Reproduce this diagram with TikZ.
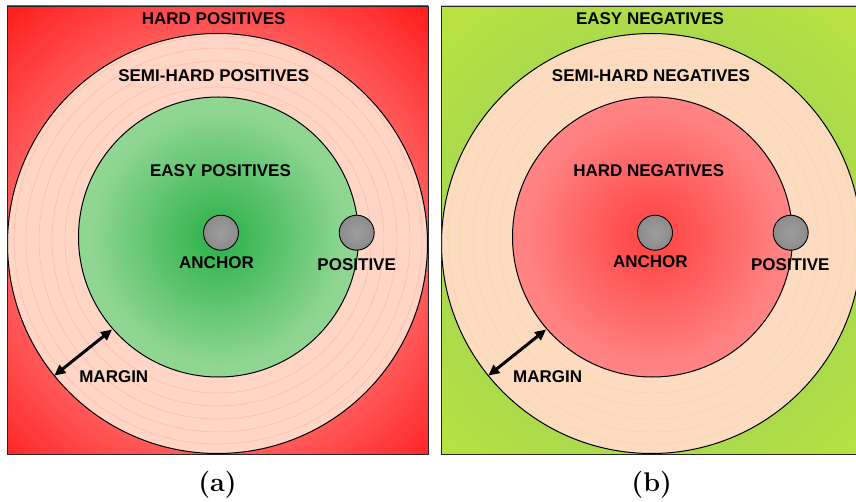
\documentclass[tikz,border=0pt]{standalone}
\usepackage{fontspec}
\usetikzlibrary{arrows.meta}
\newfontfamily\labfont{Liberation Sans}

% colours
\definecolor{bgRedNear}{HTML}{FF5858}
\definecolor{bgRedFar}{HTML}{FF1A1A}
\definecolor{bgGrnNear}{HTML}{ABDB4C}
\definecolor{bgGrnFar}{HTML}{BCE33E}
\definecolor{ringA}{HTML}{FFD6C6}
\definecolor{ringB}{HTML}{FDDBC1}
\definecolor{ringLineA}{HTML}{FFB5A5}
\definecolor{ringLineB}{HTML}{E6DDA0}
\definecolor{easyIn}{HTML}{2AB048}
\definecolor{easyMid}{HTML}{8CD590}
\definecolor{easyOut}{HTML}{BCE5AE}
\definecolor{hardIn}{HTML}{FF4040}
\definecolor{hardMid}{HTML}{FF8080}
\definecolor{hardOut}{HTML}{FFA8A8}
\definecolor{ballIn}{HTML}{9E9E9E}
\definecolor{ballOut}{HTML}{787878}

% radial shadings reaching their outer colour at the rim of the disc
\pgfdeclareradialshading{easydisc}{\pgfpoint{0bp}{0bp}}{color(0bp)=(easyIn); color(22bp)=(easyMid); color(50bp)=(easyOut)}
\pgfdeclareradialshading{harddisc}{\pgfpoint{0bp}{0bp}}{color(0bp)=(hardIn); color(22bp)=(hardMid); color(50bp)=(hardOut)}
\pgfdeclareradialshading{ball}{\pgfpoint{0bp}{0bp}}{color(0bp)=(ballIn); color(50bp)=(ballOut)}

\tikzset{
  panel/.style={draw=black!85, line width=0.9pt},
  zone/.style={circle, draw=black, line width=1pt, inner sep=0pt},
  ringline/.style={line width=0.45pt},
  sample/.style={circle, draw=black, line width=0.9pt, inner sep=0pt,
                 minimum size=35pt, shading=ball},
  lab/.style={font=\labfont\bfseries\fontsize{17}{20}\selectfont, inner sep=0pt},
  subcaption/.style={font=\bfseries\fontsize{27}{32}\selectfont, inner sep=0pt},
  marginarrow/.style={line width=3pt,
    {Triangle[length=11pt,width=10pt]}-{Triangle[length=11pt,width=10pt]}, shorten <=0.5pt, shorten >=0.5pt}
}

% background: concentric bands from the rim of the circle out to the corners
\newcommand{\bandfill}[4]{% centre x, centre y, near colour, far colour
  \foreach \k in {0,...,27} {
    \pgfmathsetmacro{\rad}{322-\k*4}
    \pgfmathsetmacro{\mix}{100-\k*100/27}
    \fill[#4!\mix!#3] (#1,#2) circle[radius=\rad];
  }%
}

\begin{document}
\begin{tikzpicture}[x=1pt, y=-1pt]
\useasboundingbox (0,0) rectangle (856,502);
\fill[white] (0,0) rectangle (856,502);

\begin{scope}
\clip (0,0) rectangle (856,502);

% ---------- panel (a): positives ----------
\begin{scope}
  \clip (7,6) rectangle (428,454);
  \bandfill{217.5}{243.5}{bgRedNear}{bgRedFar}
\end{scope}
\node[zone, fill=ringA, minimum size=420pt] (outA) at (217.5,243.5) {};
\foreach \r in {153,166,179,192,204}
  \draw[ringline, ringLineA] (218,240) circle[radius=\r];
\node[zone, shading=easydisc, minimum size=280pt] (inA) at (218.5,237) {};
\draw[panel] (7,6) rectangle (428,454);

\node[sample] (ancA) at (221,232.7) {};
\node[sample] (posA) at (356.7,232.7) {};

\node[lab] (hardA) at (213.7,19) {HARD POSITIVES};
\node[lab] (semiA) at (213.7,75.3) {SEMI-HARD POSITIVES};
\node[lab] (easyA) at (220.5,170.8) {EASY POSITIVES};
\node[lab] (ancAlab) at (216.5,262.3) {ANCHOR};
\node[lab] (posAlab) at (356.7,265) {POSITIVE};
\node[lab] (marA) at (113.8,376.7) {MARGIN};
\draw[marginarrow] (outA.219) -- (inA.221);

% ---------- panel (b): negatives ----------
\begin{scope}
  \clip (441,6) rectangle (862,454);
  \bandfill{651.5}{243.5}{bgGrnNear}{bgGrnFar}
\end{scope}
\node[zone, fill=ringB, minimum size=420pt] (outB) at (651.5,243.5) {};
\foreach \r in {153,166,179,192,204}
  \draw[ringline, ringLineB] (652,240) circle[radius=\r];
\node[zone, shading=harddisc, minimum size=280pt] (inB) at (652.5,237) {};
\draw[panel] (441,6) rectangle (862,454);

\node[sample] (ancB) at (655,232.7) {};
\node[sample] (posB) at (790.7,232.7) {};

\node[lab] (easyB) at (650,19) {EASY NEGATIVES};
\node[lab] (semiB) at (651,75.3) {SEMI-HARD NEGATIVES};
\node[lab] (hardB) at (648.7,170.8) {HARD NEGATIVES};
\node[lab] (ancBlab) at (650.4,261.8) {ANCHOR};
\node[lab] (posBlab) at (790.3,265) {POSITIVE};
\node[lab] (marB) at (547.6,376.7) {MARGIN};
\draw[marginarrow] (outB.219) -- (inB.221);
\end{scope}

% captions
\node[subcaption] (capA) at (217.5,485) {(a)};
\node[subcaption] (capB) at (651.7,485) {(b)};
\end{tikzpicture}
\end{document}
